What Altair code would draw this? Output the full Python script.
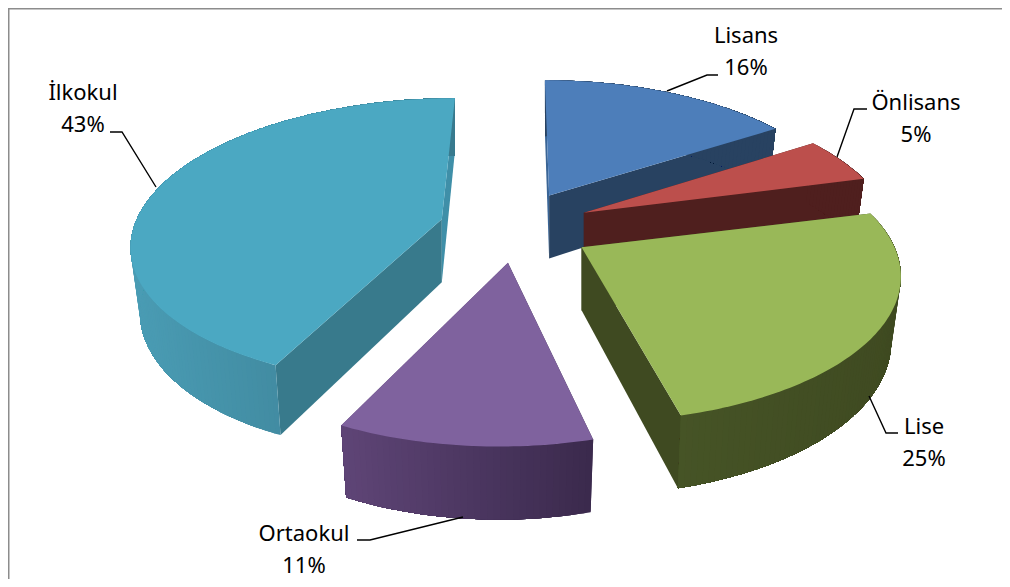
import math
import altair as alt

# ---- data ----
categories = ["Lisans", "Önlisans", "Lise", "Ortaokul", "İlkokul"]
values = [16, 5, 25, 11, 43]

# ---- styles ----
top_colors = ["#4D7EBA", "#BC4F4C", "#99B858", "#7F629E", "#4BA8C2"]
wall_left = ["#284261", "#4F1F1E", "#465426", "#5F4577", "#4A9CB4"]
wall_right = ["#284261", "#4F1F1E", "#3F4A21", "#3B2A4D", "#38798D"]
radial_start = ["#3A6596", "#4F1F1E", "#3F4A21", "#3B2A4D", "#387A8C"]
radial_end = ["#284261", "#4F1F1E", "#3F4A21", "#5F4577", "#3F8FA8"]
draw_order = [0, 1, 4, 2, 3]

# ---- layout of the 3-D pie (page pixels) ----
M = 8
CX, CY = 515, 227
EXPLODE_X, EXPLODE_Y = 75, 36
# per-slice projection: x radius, y radius, perspective, vanishing-point x, apex nudge
radius_x = [298, 305, 313, 310, 305]
radius_y = [136.7, 142.4, 142.4, 149.5, 139.3]
persp = [0.186, 0.186, 0.186, 0.186, 0.151]
vanish_x = [-27, -55, -20, 40, 100]
nudge = [(-2, 0), (0, 0), (2, 2), (0, 0), (0, 0)]
DEPTH = 63
BOTTOM_SHRINK = 0.97
label_pos = {
    "Lisans": (746, 43), "Önlisans": (916, 110), "Lise": (924, 434),
    "Ortaokul": (304, 541), "İlkokul": (83, 100),
}
leaders = {
    "Lisans": [(667, 91), (707, 75), (718, 75)],
    "Önlisans": [(837, 157), (854, 109), (867, 109)],
    "Lise": [(869, 396), (886, 433), (898, 433)],
    "Ortaokul": [(463, 517), (370, 540), (357, 540)],
    "İlkokul": [(156, 187), (122, 132), (110, 132)],
}
frame = [[(8, 579), (8, 8), (1002, 8)]]
frame_color = "#8C8C8C"


def hexrgb(c):
    return [int(c[i:i + 2], 16) for i in (1, 3, 5)]


def mix(a, b, t):
    ra, rb = hexrgb(a), hexrgb(b)
    return "#%02x%02x%02x" % tuple(round(x + (y - x) * t) for x, y in zip(ra, rb))


def pt(i, apex, deg, bottom=False):
    th = math.radians(deg)
    s = 1 / (1 + persp[i] * math.cos(th))
    x = apex[0] + radius_x[i] * math.sin(th) * s + vanish_x[i] * (1 - s)
    y = apex[1] - radius_y[i] * math.cos(th) * s
    if bottom:
        x = apex[0] + (x - apex[0]) * BOTTOM_SHRINK
        y += DEPTH * (1 + 0.7 * (s - 1))
    return (x - M, y - M)


def feat(coords, fill):
    return {
        "type": "Feature",
        "properties": {"fill": fill},
        "geometry": {"type": "Polygon", "coordinates": [[list(p) for p in coords + coords[:1]]]},
    }


def shift(points):
    return [(x - M, y - M) for x, y in points]


features = []
cum = 0
spans = []
for v in values:
    spans.append((cum * 3.6, (cum + v) * 3.6))
    cum += v

for i in draw_order:
    a0, a1 = spans[i]
    mid = math.radians((a0 + a1) / 2)
    apex = (CX + EXPLODE_X * math.sin(mid) + nudge[i][0], CY - EXPLODE_Y * math.cos(mid) + nudge[i][1])
    ap_t = (apex[0] - M, apex[1] - M)
    ap_b = (apex[0] - M, apex[1] + DEPTH - M)
    features.append(feat([ap_t, pt(i, apex, a0), pt(i, apex, a0, True), ap_b], radial_start[i]))
    features.append(feat([ap_t, pt(i, apex, a1), pt(i, apex, a1, True), ap_b], radial_end[i]))
    n = max(2, int(a1 - a0))
    angs = [a0 + (a1 - a0) * k / n for k in range(n + 1)]
    xs = [pt(i, apex, d)[0] for d in angs]
    lo, hi = min(xs), max(xs)
    # each band runs to the end of the wall and the next one paints over it, so no seams show
    for k in range(n):
        t = (pt(i, apex, angs[k])[0] - lo) / (hi - lo)
        rest = angs[k:]
        features.append(feat([pt(i, apex, d) for d in rest] + [pt(i, apex, d, True) for d in reversed(rest)],
                             mix(wall_left[i], wall_right[i], t)))
    features.append(feat([ap_t] + [pt(i, apex, d) for d in angs], top_colors[i]))

proj = alt.Projection(type="identity", scale=1, translate=[0, 0])

slices = (
    alt.Chart(alt.Data(values=features))
    .mark_geoshape(strokeWidth=0)
    .encode(fill=alt.Fill("properties.fill:N", scale=None))
    .project(**proj.to_dict())
)


def line_features(paths):
    return [{"type": "Feature", "properties": {},
             "geometry": {"type": "LineString", "coordinates": [list(p) for p in shift(path)]}}
            for path in paths]


leader_layer = (
    alt.Chart(alt.Data(values=line_features(list(leaders.values()))))
    .mark_geoshape(filled=False, stroke="#000000", strokeWidth=1.4)
    .project(**proj.to_dict())
)
frame_layer = (
    alt.Chart(alt.Data(values=line_features(frame)))
    .mark_geoshape(filled=False, stroke=frame_color, strokeWidth=3)
    .project(**proj.to_dict())
)

rows = []
for c, v in zip(categories, values):
    x, y = label_pos[c]
    rows.append({"t": c, "x": x - M, "y": y - M})
    rows.append({"t": f"{v}%", "x": x - M, "y": y + 32 - M})

labels = (
    alt.Chart(alt.Data(values=rows))
    .mark_text(font="Noto Sans", fontSize=22, color="#000000", align="center", baseline="alphabetic")
    .encode(x=alt.X("x:Q", scale=None), y=alt.Y("y:Q", scale=None), text="t:N")
)

chart = (
    alt.layer(frame_layer, slices, leader_layer, labels)
    .properties(width=994, height=571, padding=0, background="white", autosize="none")
    .configure_view(stroke=None)
)
chart.save("out.html", embed_options={"renderer": "svg", "actions": False})
